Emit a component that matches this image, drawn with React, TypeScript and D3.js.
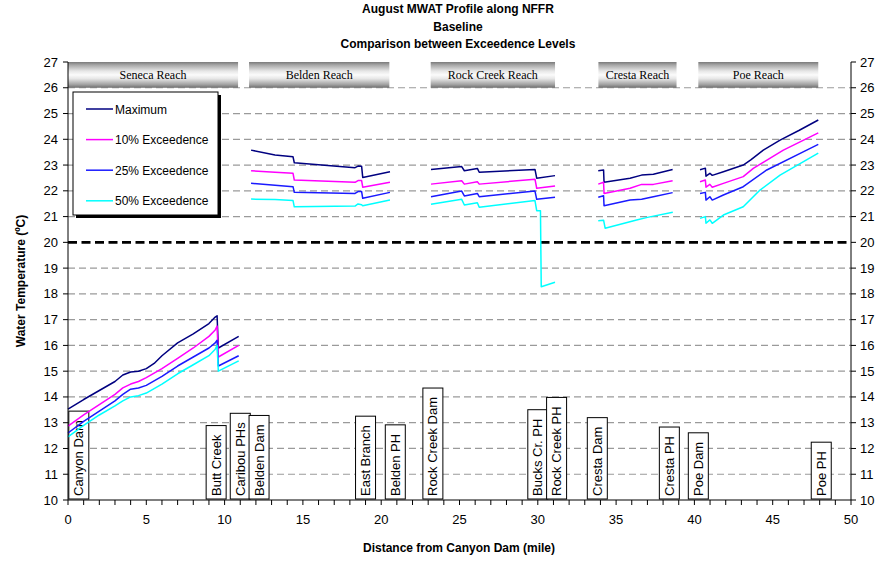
import React, { useEffect, useRef } from 'react';
import * as d3 from 'd3';

const W = 890;
const H = 561;

const titleLines = ['August MWAT Profile along NFFR', 'Baseline', 'Comparison between Exceedence Levels'];
const xAxisTitle = 'Distance from Canyon Dam (mile)';
const yAxisTitle = 'Water Temperature (ºC)';

const xMajorTicks = [0, 5, 10, 15, 20, 25, 30, 35, 40, 45, 50];
const xMinorTicks = [0, 1, 2, 3, 4, 5, 6, 7, 8, 9, 10, 11, 12, 13, 14, 15, 16, 17, 18, 19, 20, 21, 22, 23, 24, 25, 26, 27, 28, 29, 30, 31, 32, 33, 34, 35, 36, 37, 38, 39, 40, 41, 42, 43, 44, 45, 46, 47, 48, 49, 50];
const yTicks = [10, 11, 12, 13, 14, 15, 16, 17, 18, 19, 20, 21, 22, 23, 24, 25, 26, 27];
const gridValues = [11, 12, 13, 14, 15, 16, 17, 18, 19, 21, 22, 23, 24, 25, 26];
const thresholdValue = 20;

const reachNames = ['Seneca Reach', 'Belden Reach', 'Rock Creek Reach', 'Cresta Reach', 'Poe Reach'];
const reachStart = [0, 11.56, 23.16, 33.87, 40.25];
const reachEnd = [10.86, 20.52, 31.1, 38.86, 47.91];

const siteNames = ['Canyon Dam', 'Butt Creek', 'Caribou PHs', 'Belden Dam', 'East Branch', 'Belden PH', 'Rock Creek Dam', 'Bucks Cr. PH', 'Rock Creek PH', 'Cresta Dam', 'Cresta PH', 'Poe Dam', 'Poe PH'];
const siteMiles = [0.69, 9.46, 11.0, 12.2, 19.0, 20.9, 23.3, 30.0, 31.2, 33.8, 38.4, 40.25, 48.1];

const seriesNames = ['Maximum', '10% Exceedence', '25% Exceedence', '50% Exceedence'];
const seriesColors = ['#000080', '#ff00ff', '#1a1aff', '#00ffff'];

// each series: list of reach segments of [mile, °C]
const maximum: [number, number][][] = [
  [[0, 13.53], [1, 13.9], [2, 14.25], [3, 14.6], [3.5, 14.85], [4, 14.97], [4.5, 15.0], [5, 15.1], [5.5, 15.3], [6, 15.6], [7, 16.1], [8, 16.45], [9, 16.85], [9.4, 17.1], [9.52, 17.15], [9.6, 15.9], [10.9, 16.35]],
  [[11.69, 23.58], [13.22, 23.39], [14.37, 23.32], [14.45, 23.09], [18.33, 22.9], [18.52, 22.96], [18.75, 22.95], [18.82, 22.52], [20.56, 22.74]],
  [[23.18, 22.83], [25.14, 22.94], [25.31, 22.78], [26.14, 22.87], [26.26, 22.72], [29.82, 22.83], [29.93, 22.49], [31.1, 22.59]],
  [[33.86, 22.78], [34.2, 22.81], [34.23, 22.33], [35.89, 22.49], [36.63, 22.61], [37.38, 22.64], [38.61, 22.83]],
  [[40.36, 22.82], [40.7, 22.88], [40.74, 22.57], [40.99, 22.68], [41.14, 22.6], [41.85, 22.74], [43.12, 23.0], [43.6, 23.2], [44.4, 23.58], [45.47, 23.97], [46.7, 24.35], [47.91, 24.75]],
];
const exceed10: [number, number][][] = [
  [[0, 12.87], [1, 13.3], [2, 13.7], [3, 14.1], [3.5, 14.35], [4, 14.5], [4.5, 14.6], [5, 14.75], [6, 15.1], [7, 15.5], [8, 15.9], [9, 16.35], [9.4, 16.6], [9.52, 16.75], [9.6, 15.55], [10.9, 16.0]],
  [[11.69, 22.78], [13.22, 22.72], [14.37, 22.68], [14.45, 22.42], [18.33, 22.33], [18.52, 22.4], [18.75, 22.4], [18.82, 22.14], [20.56, 22.33]],
  [[23.18, 22.26], [25.14, 22.39], [25.31, 22.26], [26.14, 22.35], [26.26, 22.26], [29.82, 22.45], [29.93, 22.1], [31.1, 22.19]],
  [[33.86, 22.26], [34.2, 22.33], [34.23, 21.9], [35.89, 22.1], [36.63, 22.25], [37.38, 22.25], [38.61, 22.39]],
  [[40.36, 22.35], [40.7, 22.42], [40.74, 22.14], [40.99, 22.25], [41.14, 22.14], [41.85, 22.29], [43.12, 22.55], [43.76, 22.87], [45.68, 23.58], [47.91, 24.25]],
];
const exceed25: [number, number][][] = [
  [[0, 12.6], [1, 13.05], [2, 13.45], [3, 13.85], [3.5, 14.1], [4, 14.3], [4.5, 14.35], [5, 14.45], [6, 14.8], [7, 15.2], [8, 15.55], [9, 15.9], [9.4, 16.1], [9.52, 16.2], [9.6, 15.2], [10.9, 15.6]],
  [[11.69, 22.29], [13.22, 22.22], [14.37, 22.16], [14.45, 21.94], [18.33, 21.9], [18.52, 21.97], [18.75, 21.97], [18.82, 21.71], [20.56, 21.94]],
  [[23.18, 21.77], [25.14, 21.99], [25.31, 21.8], [26.14, 21.9], [26.26, 21.77], [29.82, 21.99], [29.93, 21.67], [31.1, 21.75]],
  [[33.86, 21.75], [34.2, 21.81], [34.23, 21.42], [35.89, 21.64], [36.63, 21.67], [37.38, 21.77], [38.61, 21.93]],
  [[40.36, 21.9], [40.7, 21.94], [40.74, 21.64], [40.99, 21.77], [41.14, 21.64], [41.85, 21.84], [43.12, 22.16], [44.62, 22.81], [47.17, 23.58], [47.91, 23.8]],
];
const exceed50: [number, number][][] = [
  [[0, 12.45], [1, 12.9], [2, 13.3], [3, 13.65], [3.5, 13.85], [4, 14.0], [4.5, 14.05], [5, 14.15], [6, 14.5], [7, 14.9], [8, 15.25], [9, 15.6], [9.4, 15.85], [9.52, 16.0], [9.6, 15.0], [10.9, 15.4]],
  [[11.69, 21.68], [13.22, 21.66], [14.37, 21.62], [14.45, 21.38], [18.33, 21.41], [18.52, 21.49], [18.75, 21.46], [18.82, 21.42], [20.56, 21.64]],
  [[23.18, 21.48], [25.14, 21.67], [25.31, 21.45], [26.14, 21.54], [26.26, 21.36], [29.82, 21.62], [29.93, 21.23], [30.17, 21.23], [30.22, 18.28], [31.1, 18.45]],
  [[33.86, 20.84], [34.2, 20.86], [34.3, 20.55], [36.31, 20.87], [37.0, 20.97], [38.62, 21.17]],
  [[40.36, 20.93], [40.7, 21.0], [40.74, 20.74], [40.99, 20.87], [41.14, 20.74], [41.85, 21.06], [43.12, 21.38], [44.19, 22.03], [45.47, 22.61], [47.91, 23.46]],
];
const allSeries = [maximum, exceed10, exceed25, exceed50];

const SANS = '"Liberation Sans", Arial, sans-serif';
const SERIF = '"Liberation Serif", "Times New Roman", serif';

export default function App() {
  const ref = useRef<SVGSVGElement | null>(null);

  useEffect(() => {
    const svg = d3.select(ref.current);
    svg.selectAll('*').remove();

    const left = 68, right = 851, top = 62, bottom = 500;
    const x = d3.scaleLinear().domain([0, 50]).range([left, right]);
    const y = d3.scaleLinear().domain([10, 27]).range([bottom, top]);

    const defs = svg.append('defs');
    const grad = defs.append('linearGradient').attr('id', 'bannerGrad').attr('x1', 0).attr('x2', 0).attr('y1', 0).attr('y2', 1);
    [
      [0, '#7a7a7a'], [0.12, '#a8a8a8'], [0.35, '#e6e6e6'], [0.5, '#fbfbfb'], [0.65, '#e6e6e6'], [0.88, '#a0a0a0'], [1, '#6e6e6e'],
    ].forEach(([o, c]) => grad.append('stop').attr('offset', o as number).attr('stop-color', c as string));

    // gridlines
    svg.append('g').selectAll('line').data(gridValues).join('line')
      .attr('x1', left).attr('x2', right)
      .attr('y1', d => y(d)).attr('y2', d => y(d))
      .attr('stroke', '#9a9a9a').attr('stroke-width', 1.2).attr('stroke-dasharray', '7,4');

    // threshold
    svg.append('line')
      .attr('x1', left).attr('x2', right)
      .attr('y1', y(thresholdValue)).attr('y2', y(thresholdValue))
      .attr('stroke', '#000').attr('stroke-width', 2.6).attr('stroke-dasharray', '9,4.5');

    // site label boxes
    const siteG = svg.append('g');
    siteNames.forEach((name, i) => {
      const g = siteG.append('g');
      const cx = x(siteMiles[i]);
      const rect = g.append('rect');
      const t = g.append('text')
        .attr('transform', `translate(${cx + 4.5},${bottom - 4}) rotate(-90)`)
        .attr('font-family', SANS).attr('font-size', 13).attr('fill', '#000')
        .text(name);
      const len = (t.node() as SVGTextElement).getComputedTextLength();
      const h = len + 12;
      rect.attr('x', cx - 10).attr('y', bottom - 1 - h).attr('width', 20).attr('height', h)
        .attr('fill', '#fff').attr('stroke', '#000').attr('stroke-width', 1);
    });

    // series lines
    const line = d3.line<[number, number]>().x(d => x(d[0])).y(d => y(d[1]));
    allSeries.forEach((segs, si) => {
      segs.forEach(seg => {
        svg.append('path').attr('d', line(seg)).attr('fill', 'none')
          .attr('stroke', seriesColors[si]).attr('stroke-width', 1.5).attr('stroke-linejoin', 'round');
      });
    });

    // reach banners
    reachNames.forEach((name, i) => {
      svg.append('rect').attr('x', x(reachStart[i])).attr('y', y(27)).attr('width', x(reachEnd[i]) - x(reachStart[i]))
        .attr('height', y(26) - y(27)).attr('fill', 'url(#bannerGrad)');
      svg.append('text').attr('x', (x(reachStart[i]) + x(reachEnd[i])) / 2).attr('y', (y(27) + y(26)) / 2 + 4)
        .attr('text-anchor', 'middle').attr('font-family', SERIF).attr('font-size', 12).text(name);
    });

    // legend
    const lg = svg.append('g');
    lg.append('rect').attr('x', 76).attr('y', 95).attr('width', 145).attr('height', 123).attr('fill', '#000');
    lg.append('rect').attr('x', 73).attr('y', 92).attr('width', 145).attr('height', 123).attr('fill', '#fff').attr('stroke', '#000').attr('stroke-width', 1);
    seriesNames.forEach((name, i) => {
      const ly = 109 + i * 30.6;
      lg.append('line').attr('x1', 86).attr('x2', 113).attr('y1', ly).attr('y2', ly).attr('stroke', seriesColors[i]).attr('stroke-width', 1.5);
      lg.append('text').attr('x', 115).attr('y', ly + 4.5).attr('font-family', SANS).attr('font-size', 12).text(name);
    });

    // axes
    const ax = svg.append('g').attr('stroke', '#000').attr('stroke-width', 1);
    ax.append('line').attr('x1', left).attr('x2', left).attr('y1', top).attr('y2', bottom);
    ax.append('line').attr('x1', right).attr('x2', right).attr('y1', top).attr('y2', bottom);
    ax.append('line').attr('x1', left).attr('x2', right).attr('y1', bottom).attr('y2', bottom);
    yTicks.forEach(v => {
      ax.append('line').attr('x1', left - 5).attr('x2', left).attr('y1', y(v)).attr('y2', y(v));
      ax.append('line').attr('x1', right).attr('x2', right + 5).attr('y1', y(v)).attr('y2', y(v));
    });
    xMinorTicks.forEach(v => {
      ax.append('line').attr('x1', x(v)).attr('x2', x(v)).attr('y1', bottom).attr('y2', bottom + 5);
    });

    const labels = svg.append('g').attr('font-family', SANS).attr('font-size', 13).attr('fill', '#000');
    yTicks.forEach(v => {
      labels.append('text').attr('x', 58).attr('y', y(v) + 4.5).attr('text-anchor', 'end').text(String(v));
      labels.append('text').attr('x', 860).attr('y', y(v) + 4.5).attr('text-anchor', 'start').text(String(v));
    });
    xMajorTicks.forEach(v => {
      labels.append('text').attr('x', x(v)).attr('y', 524).attr('text-anchor', 'middle').text(String(v));
    });

    // titles
    const tg = svg.append('g').attr('font-family', SANS).attr('font-size', 12).attr('font-weight', 'bold').attr('text-anchor', 'middle');
    titleLines.forEach((t, i) => {
      tg.append('text').attr('x', 458).attr('y', 13 + i * 17.5).text(t);
    });
    tg.append('text').attr('x', 459).attr('y', 552).text(xAxisTitle);
    tg.append('text').attr('transform', `translate(25,${(top + bottom) / 2}) rotate(-90)`).text(yAxisTitle);
  }, []);

  return (
    <svg ref={ref} width={W} height={H} style={{ position: 'absolute', left: 0, top: 0, background: '#fff' }} />
  );
}
